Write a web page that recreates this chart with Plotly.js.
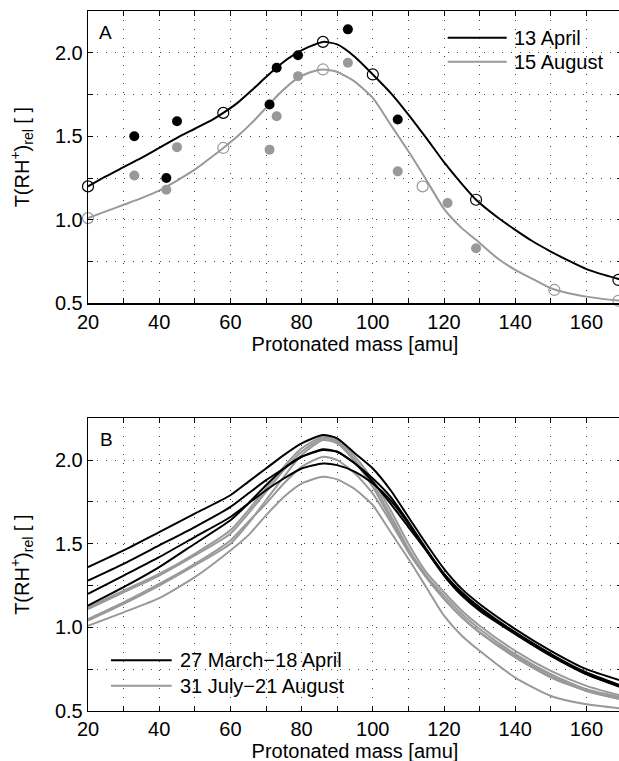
<!DOCTYPE html>
<html>
<head>
<meta charset="utf-8">
<script src="https://cdn.plot.ly/plotly-3.0.1.min.js"></script>
<style>
html,body{margin:0;padding:0;overflow:hidden;background:#fff;}
#chart{width:622px;height:775px;}
</style>
</head>
<body>
<div id="chart"></div>
<script>
// ---------- Panel A data ----------
const fitMassA = [20,25,30,35,40,45,50,55,58,62,66,70,74,78,82,86,90,95,100,105,110,115,120,125,129,135,140,145,150,155,160,165,170];
const aprilFit = [1.20,1.26,1.315,1.37,1.43,1.49,1.545,1.60,1.64,1.70,1.775,1.855,1.93,1.99,2.035,2.065,2.05,1.975,1.87,1.76,1.63,1.49,1.345,1.215,1.12,1.015,0.94,0.87,0.81,0.755,0.705,0.67,0.64];
const augustFit = [1.01,1.05,1.09,1.13,1.175,1.235,1.30,1.38,1.43,1.50,1.58,1.67,1.76,1.835,1.88,1.90,1.885,1.826,1.73,1.57,1.41,1.24,1.065,0.95,0.88,0.77,0.70,0.645,0.59,0.56,0.54,0.525,0.515];

const aprilCalMass = [20,58,86,100,129,169];
const aprilCal     = [1.20,1.64,2.065,1.87,1.12,0.64];
const augustCalMass = [20,58,86,114,151,169];
const augustCal     = [1.01,1.43,1.90,1.20,0.58,0.515];

const aprilObsMass = [33,42,45,71,73,79,93,107];
const aprilObs     = [1.50,1.25,1.59,1.69,1.91,1.985,2.14,1.60];
const augustObsMass = [33,42,45,71,73,79,93,107,121,129];
const augustObs     = [1.265,1.18,1.435,1.42,1.62,1.86,1.94,1.29,1.10,0.83];

// ---------- Panel B data ----------
const massB = [20,30,40,50,60,65,70,75,80,86,90,95,100,105,110,115,120,125,130,140,150,160,170];
const springCurves = [
  [1.36,1.46,1.57,1.68,1.79,1.87,1.95,2.03,2.10,2.15,2.13,2.04,1.95,1.82,1.66,1.50,1.35,1.23,1.14,0.99,0.86,0.75,0.68],
  [1.28,1.38,1.49,1.60,1.72,1.80,1.88,1.95,2.02,2.06,2.05,1.98,1.89,1.78,1.63,1.47,1.32,1.20,1.11,0.97,0.84,0.73,0.65],
  [1.20,1.31,1.42,1.54,1.66,1.74,1.82,1.89,1.95,1.98,1.97,1.93,1.86,1.76,1.62,1.46,1.31,1.19,1.10,0.96,0.83,0.72,0.64],
  [1.13,1.24,1.36,1.50,1.64,1.74,1.85,1.95,2.02,2.065,2.05,1.98,1.87,1.74,1.60,1.46,1.32,1.21,1.12,0.97,0.84,0.72,0.64]
];
const summerCurves = [
  [1.12,1.22,1.32,1.44,1.58,1.70,1.83,1.96,2.07,2.14,2.12,2.02,1.88,1.70,1.50,1.33,1.21,1.10,1.01,0.86,0.74,0.65,0.59],
  [1.11,1.21,1.31,1.43,1.56,1.68,1.81,1.94,2.05,2.13,2.11,2.00,1.86,1.67,1.47,1.31,1.19,1.08,0.99,0.84,0.72,0.63,0.58],
  [1.05,1.15,1.26,1.38,1.52,1.63,1.74,1.86,1.96,2.02,2.00,1.92,1.80,1.63,1.45,1.30,1.17,1.06,0.97,0.82,0.70,0.62,0.57],
  [1.04,1.14,1.25,1.37,1.50,1.62,1.76,1.90,2.03,2.12,2.10,1.99,1.84,1.65,1.46,1.30,1.17,1.06,0.97,0.83,0.71,0.62,0.57],
  [1.01,1.09,1.175,1.30,1.46,1.55,1.67,1.78,1.86,1.90,1.885,1.826,1.73,1.57,1.41,1.24,1.07,0.95,0.86,0.70,0.59,0.54,0.515]
];

const legendA = ['13 April','15 August'];
const legendB = ['27 March\u221218 April','31 July\u221221 August'];
const xTitle = 'Protonated mass [amu]';
const yTitle = 'T(RH<sup>+</sup>)<sub>rel</sub> [ ]';

// ---------- styling ----------
const BLACK = '#000000';
const GRAY = '#999999';
const FONT = 'Liberation Sans, Arial, Helvetica, sans-serif';
const W = 622, H = 775, L = 88, R = 0, T = 11, B = 64;
function px(x){ return (x - L) / (W - L - R); }
function py(y){ return (H - B - y) / (H - T - B); }

const traces = [];
function line(x, y, color, xa, ya){
  traces.push({x:x, y:y, xaxis:xa, yaxis:ya, type:'scatter', mode:'lines',
    line:{color:color, width:2, shape:'spline', smoothing:0.6}, showlegend:false, hoverinfo:'skip'});
}
function pts(x, y, color, open, xa, ya){
  traces.push({x:x, y:y, xaxis:xa, yaxis:ya, type:'scatter', mode:'markers', cliponaxis:false,
    marker:{symbol: open ? 'circle-open' : 'circle', size: open ? 11 : 10, color:color,
            line:{color:color, width: open ? 1.2 : 0}}, showlegend:false, hoverinfo:'skip'});
}
line(fitMassA, augustFit, GRAY, 'x', 'y');
line(fitMassA, aprilFit, BLACK, 'x', 'y');
pts(augustObsMass, augustObs, GRAY, false, 'x', 'y');
pts(aprilObsMass, aprilObs, BLACK, false, 'x', 'y');
pts(augustCalMass, augustCal, GRAY, true, 'x', 'y');
pts(aprilCalMass, aprilCal, BLACK, true, 'x', 'y');
summerCurves.forEach(c => line(massB, c, GRAY, 'x2', 'y2'));
springCurves.forEach(c => line(massB, c, BLACK, 'x2', 'y2'));

const gridStyle = {showgrid:true, gridcolor:'#444', gridwidth:1, griddash:'1px,8px'};
function xaxis(anchor){
  return Object.assign({
    range:[20,170], dtick:20, tick0:0, ticks:'inside', ticklen:5, tickwidth:1, tickcolor:'#000',
    showline:true, linecolor:'#000', linewidth:1.3, mirror:'ticks', zeroline:false,
    anchor:anchor, domain:[0,1], fixedrange:true,
    tickfont:{family:FONT, size:20, color:'#000'},
    ticklabelstandoff:0,
    minor:{dtick:10, ticks:'inside', ticklen:5, tickcolor:'#000', showgrid:true, gridcolor:'#444', gridwidth:1, griddash:'1px,8px'},
    title:{text:xTitle, font:{family:FONT, size:20, color:'#000'}, standoff:4}
  }, gridStyle);
}
function yaxis(anchor, dom){
  return Object.assign({
    range:[0.5,2.25], dtick:0.5, tick0:0, tickformat:'.1f', ticks:'inside', ticklen:5, tickwidth:1, tickcolor:'#000',
    showline:true, linecolor:'#000', linewidth:1.3, mirror:'ticks', zeroline:false,
    anchor:anchor, domain:dom, fixedrange:true,
    tickfont:{family:FONT, size:20, color:'#000'},
    ticklabelstandoff:0,
    minor:{dtick:0.25, ticks:'inside', ticklen:5, tickcolor:'#000', showgrid:true, gridcolor:'#444', gridwidth:1, griddash:'1px,8px'},
    title:{text:yTitle, font:{family:FONT, size:20, color:'#000'}, standoff:20}
  }, gridStyle);
}

const annotations = [
  {text:'A', x:px(105), y:py(32), xref:'paper', yref:'paper', showarrow:false, xanchor:'center', yanchor:'middle', font:{family:FONT, size:19, color:'#000'}},
  {text:'B', x:px(106), y:py(439), xref:'paper', yref:'paper', showarrow:false, xanchor:'center', yanchor:'middle', font:{family:FONT, size:19, color:'#000'}},
  {text:legendA[0], x:px(512), y:py(37.7), xref:'paper', yref:'paper', showarrow:false, xanchor:'left', yanchor:'middle', font:{family:FONT, size:20, color:'#000'}},
  {text:legendA[1], x:px(512), y:py(61.7), xref:'paper', yref:'paper', showarrow:false, xanchor:'left', yanchor:'middle', font:{family:FONT, size:20, color:'#000'}},
  {text:legendB[0], x:px(178), y:py(660.3), xref:'paper', yref:'paper', showarrow:false, xanchor:'left', yanchor:'middle', font:{family:FONT, size:20, color:'#000'}},
  {text:legendB[1], x:px(178), y:py(685.7), xref:'paper', yref:'paper', showarrow:false, xanchor:'left', yanchor:'middle', font:{family:FONT, size:20, color:'#000'}}
];
function seg(x0, x1, y, color){
  return {type:'line', xref:'paper', yref:'paper', x0:px(x0), x1:px(x1), y0:py(y), y1:py(y), line:{color:color, width:2}};
}
const shapes = [
  seg(447.7, 506.7, 37.7, BLACK),
  seg(447.7, 506.7, 61.7, GRAY),
  seg(111, 171.7, 660.3, BLACK),
  seg(111, 171.7, 685.7, GRAY)
];

const layout = {
  width:W, height:H,
  margin:{l:L, r:R, t:T, b:B, pad:0},
  paper_bgcolor:'#ffffff', plot_bgcolor:'#ffffff',
  showlegend:false,
  font:{family:FONT, size:20, color:'#000'},
  xaxis: xaxis('y'),
  yaxis: yaxis('x', [1 - 292.3/700, 1]),
  xaxis2: xaxis('y2'),
  yaxis2: yaxis('x2', [0, 1 - 407.3/700]),
  annotations: annotations,
  shapes: shapes
};

Plotly.newPlot('chart', traces, layout, {staticPlot:true, displayModeBar:false});
</script>
</body>
</html>
